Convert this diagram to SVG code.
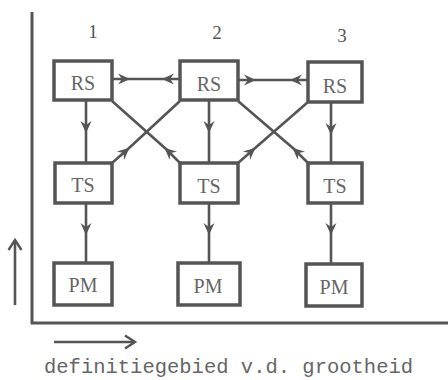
<svg xmlns="http://www.w3.org/2000/svg" width="448" height="380" viewBox="0 0 448 380">
<style>
.box{fill:#fff;stroke:#555;stroke-width:3.5}
.ln{fill:none;stroke:#555;stroke-width:2.6}
.lbl{font-family:"Liberation Serif",serif;font-size:20px;fill:#666;text-anchor:middle}
.num{font-family:"Liberation Serif",serif;font-size:19px;fill:#555;text-anchor:middle}
.cap{font-family:"Liberation Mono",monospace;font-size:20.5px;fill:#666}
</style>
<defs>
<marker id="ah" markerUnits="userSpaceOnUse" markerWidth="14" markerHeight="12" viewBox="-11 -6 14 12" refX="0" refY="0" orient="auto">
<path d="M2,0 L-10,-5.5 L-6,0 L-10,5.5 Z" fill="#555"/>
</marker>
<marker id="open" markerUnits="userSpaceOnUse" markerWidth="16" markerHeight="16" viewBox="-12 -8 16 16" refX="0" refY="0" orient="auto">
<path d="M-10,-6.5 L0,0 L-10,6.5" fill="none" stroke="#555" stroke-width="2.4"/>
</marker>
</defs>
<g id="axes" class="ln">
<path d="M32,12 L32,323 L448,323" stroke-width="3"/>
<path d="M15,305 L15,240" marker-end="url(#open)"/>
<path d="M54,342 L135,342" marker-end="url(#open)"/>
</g>
<g id="connectors" class="ln">
<path d="M86,100 L86,131 L86,163" marker-mid="url(#ah)"/>
<path d="M209,100 L209,131 L209,163" marker-mid="url(#ah)"/>
<path d="M331,102 L331,133 L331,163" marker-mid="url(#ah)"/>
<path d="M86,203 L86,233 L86,263" marker-mid="url(#ah)"/>
<path d="M209,203 L209,233 L209,263" marker-mid="url(#ah)"/>
<path d="M331,203 L331,233 L331,264" marker-mid="url(#ah)"/>
<path d="M112,79 L128,79 L146,79" marker-mid="url(#ah)"/>
<path d="M180,79 L164,79 L146,79" marker-mid="url(#ah)"/>
<path d="M238,80 L254,80 L272,80" marker-mid="url(#ah)"/>
<path d="M308,80 L292,80 L272,80" marker-mid="url(#ah)"/>
<path d="M112,163 L128,149 L180,101" marker-mid="url(#ah)"/>
<path d="M180,163 L166,149 L112,101" marker-mid="url(#ah)"/>
<path d="M238,163 L254,149 L308,102" marker-mid="url(#ah)"/>
<path d="M308,163 L294,149 L238,101" marker-mid="url(#ah)"/>
</g>
<g id="labels">
<text class="num" x="93" y="38">1</text>
<text class="num" x="217" y="39">2</text>
<text class="num" x="342" y="42">3</text>
</g>
<g id="rs1"><rect class="box" x="54" y="61" width="58" height="39"/><text class="lbl" x="83" y="90">RS</text></g>
<g id="rs2"><rect class="box" x="180" y="61" width="58" height="39"/><text class="lbl" x="209" y="91">RS</text></g>
<g id="rs3"><rect class="box" x="308" y="62" width="54" height="40"/><text class="lbl" x="335" y="93">RS</text></g>
<g id="ts1"><rect class="box" x="55" y="163" width="57" height="40"/><text class="lbl" x="83" y="192">TS</text></g>
<g id="ts2"><rect class="box" x="180" y="163" width="58" height="40"/><text class="lbl" x="209" y="193">TS</text></g>
<g id="ts3"><rect class="box" x="308" y="163" width="54" height="40"/><text class="lbl" x="335" y="193">TS</text></g>
<g id="pm1"><rect class="box" x="54" y="263" width="58" height="42"/><text class="lbl" x="83" y="292">PM</text></g>
<g id="pm2"><rect class="box" x="178" y="263" width="62" height="42"/><text class="lbl" x="208" y="293">PM</text></g>
<g id="pm3"><rect class="box" x="306" y="264" width="56" height="42"/><text class="lbl" x="334" y="294">PM</text></g>
<text class="cap" x="44" y="373">definitiegebied v.d. grootheid</text>
</svg>
